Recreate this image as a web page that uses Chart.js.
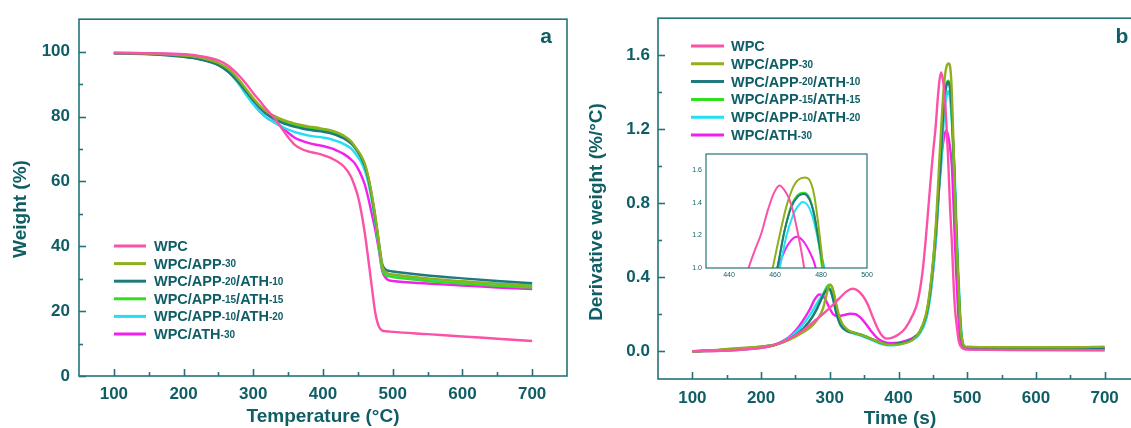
<!DOCTYPE html>
<html>
<head>
<meta charset="utf-8">
<script src="https://cdn.jsdelivr.net/npm/chart.js@4"></script>
<style>
  html, body { margin: 0; padding: 0; background: #fff; overflow: hidden; width: 1131px; height: 428px; position: relative; }
  canvas { position: absolute; }
  #tga { left: 0; top: 0; }
  #dtg { left: 580px; top: 0; }
  #inset { left: 660px; top: 140px; }
</style>
</head>
<body>
<canvas id="tga" width="580" height="428" style="width:580px;height:428px"></canvas>
<canvas id="dtg" width="600" height="428" style="width:600px;height:428px"></canvas>
<canvas id="inset" width="220" height="150" style="width:220px;height:150px"></canvas>
<script>
// series names and colours (same order in both panels)
const seriesNames = ['WPC', 'WPC/APP-30', 'WPC/APP-20/ATH-10', 'WPC/APP-15/ATH-15', 'WPC/APP-10/ATH-20', 'WPC/ATH-30'];
const seriesColors = ['#fb52a8', '#8fb01c', '#1f7a7e', '#30df1e', '#22e0f4', '#f31ff0'];

// panel a: TGA, weight (%) vs temperature
const tgaTemp = [100, 150, 200, 225, 250, 265, 280, 290, 300, 310, 320, 330, 340, 350, 360, 370, 380, 390, 400, 410,
  420, 430, 440, 445, 450, 455, 460, 465, 470, 475, 480, 485, 490, 495, 500, 550, 600, 650, 700];
const tgaWpc = [99.6, 99.5, 99.2, 98.6, 97.3, 95.5, 92.5, 90.0, 87.2, 84.6, 82.0, 79.6, 76.6, 73.6, 71.2, 69.9, 69.2, 68.7, 68.1, 67.3,
  66.2, 64.6, 61.5, 58.8, 55.5, 50.5, 44.0, 36.0, 27.5, 19.5, 15.3, 14.0, 13.8, 13.7, 13.6, 12.9, 12.2, 11.5, 10.8];
const tgaApp30 = [99.6, 99.4, 98.8, 98.1, 96.5, 94.6, 91.2, 88.4, 85.6, 83.2, 81.4, 80.2, 79.2, 78.4, 77.8, 77.3, 76.9, 76.6, 76.2, 75.8,
  75.1, 74.1, 72.4, 71.0, 69.5, 67.8, 65.5, 61.5, 56.0, 49.5, 41.5, 34.0, 32.0, 31.5, 31.3, 30.1, 29.2, 28.4, 27.8];
const tgaApp20Ath10 = [99.5, 99.2, 98.4, 97.5, 95.8, 93.6, 90.3, 87.6, 85.0, 82.6, 80.6, 79.2, 78.2, 77.4, 76.8, 76.3, 75.9, 75.6, 75.3, 74.9,
  74.2, 73.2, 71.7, 70.5, 69.0, 67.2, 64.8, 61.0, 55.5, 49.0, 41.5, 34.5, 32.8, 32.4, 32.2, 31.0, 30.1, 29.3, 28.6];
const tgaApp15Ath15 = [99.5, 99.3, 98.5, 97.6, 95.9, 93.7, 90.3, 87.6, 85.0, 82.6, 80.7, 79.5, 78.6, 77.9, 77.3, 76.8, 76.4, 76.1, 75.8, 75.4,
  74.7, 73.7, 72.0, 70.8, 69.2, 67.3, 64.8, 60.8, 55.0, 48.3, 40.5, 33.0, 31.0, 30.7, 30.5, 29.3, 28.5, 27.8, 27.3];
const tgaApp10Ath20 = [99.6, 99.4, 98.8, 97.8, 96.0, 93.6, 89.8, 86.6, 83.8, 81.4, 79.5, 78.2, 77.0, 76.0, 75.2, 74.6, 74.1, 73.8, 73.5, 73.1,
  72.4, 71.5, 70.2, 69.0, 67.5, 65.8, 63.3, 59.5, 54.0, 47.5, 40.0, 33.0, 31.4, 31.0, 30.8, 29.8, 29.1, 28.5, 28.0];
const tgaAth30 = [99.6, 99.5, 99.1, 98.3, 96.4, 94.0, 90.2, 87.0, 84.0, 81.4, 79.5, 78.2, 77.0, 75.0, 73.4, 72.5, 71.8, 71.3, 70.9, 70.3,
  69.5, 68.4, 66.8, 65.7, 64.0, 61.8, 59.0, 54.8, 50.0, 45.0, 39.0, 32.4, 30.2, 29.5, 29.3, 28.5, 27.9, 27.3, 26.8];

// panel b: DTG, derivative weight (%/°C), [x, y] pairs
const dtgWpc = [[100, 0], [150, 0.004], [200, 0.018], [220, 0.035], [240, 0.065], [260, 0.11], [280, 0.17], [300, 0.235], [315, 0.29],
  [325, 0.325], [333, 0.338], [340, 0.33], [348, 0.3], [355, 0.255], [362, 0.19], [370, 0.12], [377, 0.08], [383, 0.068], [390, 0.072],
  [400, 0.09], [410, 0.125], [420, 0.19], [428, 0.27], [435, 0.43], [440, 0.62], [444, 0.8], [446, 0.89], [448.5, 1.0], [451, 1.1],
  [454, 1.21], [457, 1.36], [459.5, 1.46], [462, 1.507], [464, 1.48], [466, 1.43], [468, 1.34], [470, 1.21], [472, 1.06], [473, 0.97],
  [475, 0.78], [477.5, 0.6], [480, 0.38], [482, 0.24], [485, 0.13], [488, 0.05], [492, 0.02], [500, 0.01], [600, 0.006], [700, 0.005]];
const dtgApp30 = [[100, 0], [130, 0.005], [160, 0.015], [200, 0.025], [220, 0.035], [240, 0.06], [260, 0.1], [275, 0.14], [285, 0.19],
  [290, 0.23], [295, 0.3], [298, 0.345], [301, 0.36], [304, 0.34], [308, 0.28], [313, 0.2], [318, 0.15], [325, 0.12], [335, 0.1],
  [345, 0.09], [355, 0.075], [365, 0.06], [375, 0.045], [385, 0.035], [395, 0.035], [405, 0.04], [420, 0.06], [430, 0.1], [440, 0.2],
  [446, 0.34], [451, 0.52], [455, 0.72], [459, 1.0], [462, 1.2], [465, 1.38], [468, 1.5], [470, 1.54], [473, 1.555], [475, 1.54],
  [477, 1.45], [479, 1.25], [481, 1.0], [483, 0.75], [485, 0.55], [487, 0.38], [489, 0.22], [491, 0.1], [494, 0.04], [498, 0.025],
  [550, 0.022], [650, 0.022], [700, 0.025]];
const dtgApp20Ath10 = [[100, 0], [150, 0.008], [200, 0.025], [220, 0.035], [240, 0.065], [255, 0.1], [270, 0.16], [280, 0.22], [290, 0.3],
  [295, 0.33], [298, 0.34], [301, 0.33], [305, 0.28], [310, 0.2], [316, 0.14], [325, 0.11], [335, 0.1], [345, 0.09], [355, 0.075],
  [365, 0.06], [375, 0.045], [385, 0.038], [395, 0.04], [405, 0.045], [420, 0.065], [430, 0.1], [440, 0.19], [446, 0.32], [451, 0.5],
  [455, 0.68], [458, 0.85], [461, 1.0], [464, 1.22], [467, 1.37], [470, 1.44], [472.5, 1.455], [475, 1.42], [477, 1.33], [479, 1.17],
  [481, 1.0], [483, 0.77], [485, 0.56], [487, 0.38], [489, 0.22], [491, 0.1], [494, 0.035], [498, 0.02], [550, 0.015], [650, 0.015],
  [700, 0.017]];
const dtgApp15Ath15 = [[100, 0], [150, 0.006], [200, 0.022], [220, 0.033], [240, 0.062], [255, 0.1], [270, 0.16], [280, 0.22], [290, 0.3],
  [296, 0.35], [300, 0.36], [303, 0.35], [307, 0.29], [311, 0.21], [317, 0.145], [325, 0.115], [335, 0.1], [345, 0.09], [355, 0.076],
  [365, 0.06], [375, 0.045], [385, 0.037], [395, 0.038], [405, 0.043], [420, 0.062], [430, 0.1], [440, 0.19], [446, 0.32], [451, 0.5],
  [455, 0.68], [458, 0.85], [461, 1.0], [464, 1.22], [467, 1.38], [470, 1.45], [472.5, 1.462], [475, 1.43], [477, 1.33], [479, 1.16],
  [480.5, 1.0], [483, 0.76], [485, 0.55], [487, 0.37], [489, 0.21], [491, 0.1], [494, 0.035], [498, 0.02], [550, 0.017], [650, 0.017],
  [700, 0.018]];
const dtgApp10Ath20 = [[100, 0], [150, 0.005], [200, 0.02], [220, 0.035], [240, 0.07], [250, 0.1], [260, 0.14], [270, 0.19], [280, 0.25],
  [290, 0.31], [297, 0.345], [301, 0.33], [305, 0.28], [310, 0.2], [316, 0.14], [325, 0.11], [335, 0.095], [345, 0.085], [355, 0.07],
  [365, 0.055], [375, 0.04], [385, 0.032], [395, 0.033], [405, 0.04], [420, 0.06], [430, 0.09], [440, 0.17], [446, 0.29], [451, 0.46],
  [455, 0.64], [459, 0.88], [462, 1.0], [465, 1.2], [468, 1.33], [470, 1.38], [472, 1.406], [474, 1.39], [476, 1.33], [478, 1.22],
  [480, 1.08], [481.5, 1.0], [483.5, 0.78], [485.5, 0.57], [487.5, 0.39], [489.5, 0.23], [491.5, 0.11], [494, 0.04], [498, 0.015],
  [550, 0.008], [650, 0.006], [700, 0.006]];
const dtgAth30 = [[100, 0], [150, 0.004], [200, 0.018], [220, 0.035], [240, 0.075], [250, 0.11], [260, 0.16], [270, 0.22], [278, 0.28],
  [285, 0.307], [290, 0.3], [295, 0.27], [300, 0.23], [305, 0.2], [311, 0.19], [320, 0.195], [330, 0.203], [338, 0.2], [345, 0.18],
  [352, 0.15], [360, 0.11], [368, 0.075], [376, 0.055], [385, 0.045], [395, 0.045], [405, 0.05], [420, 0.07], [430, 0.1], [440, 0.18],
  [446, 0.3], [451, 0.46], [455, 0.64], [458, 0.82], [461.3, 1.0], [464, 1.1], [467, 1.17], [469.5, 1.192], [472, 1.17], [475, 1.1],
  [477.7, 1.0], [480, 0.8], [482, 0.6], [484, 0.42], [486, 0.27], [488, 0.14], [490, 0.06], [493, 0.02], [498, 0.01], [550, 0.008],
  [650, 0.008], [700, 0.008]];

// tick values
const tempTicks = [100, 200, 300, 400, 500, 600, 700];
const tempMinor = [150, 250, 350, 450, 550, 650];
const weightTicks = [0, 20, 40, 60, 80, 100];
const weightMinor = [10, 30, 50, 70, 90];
const derivTicks = [0, 0.4, 0.8, 1.2, 1.6];
const derivMinor = [0.2, 0.6, 1.0, 1.4];
const insetXTicks = [440, 460, 480, 500];
const insetYTicks = [1.0, 1.2, 1.4, 1.6];

const AXIS = '#23747a';
const TEXT = '#0f5d65';
const FAMILY = '"Liberation Sans", Arial, sans-serif';

const tgaSeries = [tgaWpc, tgaApp30, tgaApp20Ath10, tgaApp15Ath15, tgaApp10Ath20, tgaAth30];
const dtgSeries = [dtgWpc, dtgApp30, dtgApp20Ath10, dtgApp15Ath15, dtgApp10Ath20, dtgAth30];

// draws "WPC/APP-20/ATH-10" with the "-20" parts smaller
function drawMixed(ctx, text, x, y, big, small) {
    const parts = text.split(/(-\d+)/).filter(Boolean);
    parts.forEach(p => {
        const isSmall = /^-\d+$/.test(p);
        ctx.font = 'bold ' + (isSmall ? small : big) + 'px ' + FAMILY;
        ctx.fillText(p, x, y);
        x += ctx.measureText(p).width;
    });
}

// frame, inward ticks, legend, titles and panel letter
const panelDeco = {
    id: 'panelDeco',
    afterDraw(chart, args, o) {
        const { ctx, chartArea: a, scales } = chart;
        ctx.save();
        ctx.strokeStyle = AXIS;
        ctx.lineWidth = o.frameWidth || 1.6;
        ctx.strokeRect(a.left, a.top, a.right - a.left, a.bottom - a.top);

        const tickX = (vals, len) => vals.forEach(v => {
            const px = Math.round(scales.x.getPixelForValue(v)) + 0.5;
            ctx.beginPath(); ctx.moveTo(px, a.bottom); ctx.lineTo(px, a.bottom - len); ctx.stroke();
        });
        const tickY = (vals, len) => vals.forEach(v => {
            const py = Math.round(scales.y.getPixelForValue(v)) + 0.5;
            ctx.beginPath(); ctx.moveTo(a.left, py); ctx.lineTo(a.left + len, py); ctx.stroke();
        });
        if (o.majorX) tickX(o.majorX, 7);
        if (o.minorX) tickX(o.minorX, 4);
        if (o.majorY) tickY(o.majorY, 7);
        if (o.minorY) tickY(o.minorY, 4);

        ctx.fillStyle = TEXT;
        if (o.legend) {
            const L = o.legend;
            seriesNames.forEach((name, i) => {
                const y = L.y0 + i * L.step;
                ctx.strokeStyle = seriesColors[i];
                ctx.lineWidth = 3;
                ctx.beginPath(); ctx.moveTo(L.x1, y); ctx.lineTo(L.x2, y); ctx.stroke();
                ctx.textBaseline = 'middle';
                ctx.textAlign = 'left';
                drawMixed(ctx, name, L.tx, y + 1, 14.5, 10);
            });
        }
        (o.titles || []).forEach(t => {
            ctx.save();
            ctx.translate(t.x, t.y);
            if (t.rot) ctx.rotate(-Math.PI / 2);
            ctx.font = 'bold 19px ' + FAMILY;
            ctx.textAlign = 'center';
            ctx.textBaseline = 'middle';
            ctx.fillText(t.text, 0, 0);
            ctx.restore();
        });
        if (o.letter) {
            ctx.font = 'bold 21px ' + FAMILY;
            ctx.textAlign = 'center';
            ctx.textBaseline = 'middle';
            ctx.fillText(o.letter.text, o.letter.x, o.letter.y);
        }
        ctx.restore();
    }
};

function fixTicks(values) {
    return scale => { scale.ticks = values.map(v => ({ value: v })); };
}

function axis(min, max, ticks, size, fmt, fontSize, padding) {
    return {
        type: 'linear', min: min, max: max,
        afterBuildTicks: fixTicks(ticks),
        afterFit: s => { if (s.isHorizontal()) s.height = size; else s.width = size; },
        grid: { display: false, drawTicks: false },
        border: { display: false },
        ticks: {
            autoSkip: false, maxRotation: 0, padding: padding, color: TEXT,
            font: { family: FAMILY, size: fontSize, weight: fontSize > 10 ? 'bold' : 'normal' },
            callback: fmt
        }
    };
}

function lineSet(points, i, width, clip) {
    return {
        label: seriesNames[i],
        data: points,
        borderColor: seriesColors[i],
        borderWidth: width,
        pointRadius: 0,
        fill: false,
        cubicInterpolationMode: 'monotone',
        clip: clip
    };
}

const baseOptions = (padding, scales, deco) => ({
    responsive: false,
    animation: false,
    events: [],
    layout: { padding: padding },
    scales: scales,
    plugins: { legend: { display: false }, tooltip: { enabled: false }, panelDeco: deco }
});

// panel a
new Chart(document.getElementById('tga'), {
    type: 'line',
    data: {
        datasets: tgaSeries.map((ys, i) => lineSet(tgaTemp.map((t, k) => ({ x: t, y: ys[k] })), i, 2.4, 0))
    },
    options: baseOptions({ left: 0, top: 16, right: 13, bottom: 0 }, {
        x: axis(50, 750, tempTicks, 52, v => String(v), 17, 8),
        y: axis(0, 110, weightTicks, 79, v => String(v), 17, 9)
    }, {
        majorX: tempTicks, minorX: tempMinor, majorY: weightTicks, minorY: weightMinor,
        legend: { x1: 114, x2: 146, tx: 154, y0: 246, step: 17.6 },
        titles: [{ text: 'Weight (%)', x: 21, y: 209, rot: true }, { text: 'Temperature (°C)', x: 323, y: 417 }],
        letter: { text: 'a', x: 546, y: 37 }
    }),
    plugins: [panelDeco]
});

// panel b
const dtgData = dtgSeries.map((pts, i) => pts.map(p => ({ x: p[0], y: p[1] })));
new Chart(document.getElementById('dtg'), {
    type: 'line',
    data: { datasets: dtgData.map((d, i) => lineSet(d, i, 2.4, 0)) },
    options: baseOptions({ left: 0, top: 17, right: 41, bottom: 0 }, {
        x: axis(50, 750, tempTicks, 49, v => String(v), 17, 9),
        y: axis(-0.15, 1.8, derivTicks, 78, v => v.toFixed(1), 17, 8)
    }, {
        majorX: tempTicks, minorX: tempMinor, majorY: derivTicks, minorY: derivMinor,
        legend: { x1: 111, x2: 144, tx: 151, y0: 46, step: 17.8 },
        titles: [{ text: 'Derivative weight (%/°C)', x: 17, y: 212, rot: true }, { text: 'Time (s)', x: 320, y: 419 }],
        letter: { text: 'b', x: 542, y: 37 }
    }),
    plugins: [panelDeco]
});

// inset of panel b, zoom on the main peak
new Chart(document.getElementById('inset'), {
    type: 'line',
    data: { datasets: dtgData.map((d, i) => lineSet(d, i, 2, 0)) },
    options: baseOptions({ left: 0, top: 14, right: 13, bottom: 0 }, {
        x: axis(430, 500, insetXTicks, 22, v => String(v), 7, 3),
        y: axis(1.0, 1.7, insetYTicks, 46, v => v.toFixed(1), 7, 4)
    }, { frameWidth: 1.2 }),
    plugins: [panelDeco]
});
</script>
</body>
</html>
